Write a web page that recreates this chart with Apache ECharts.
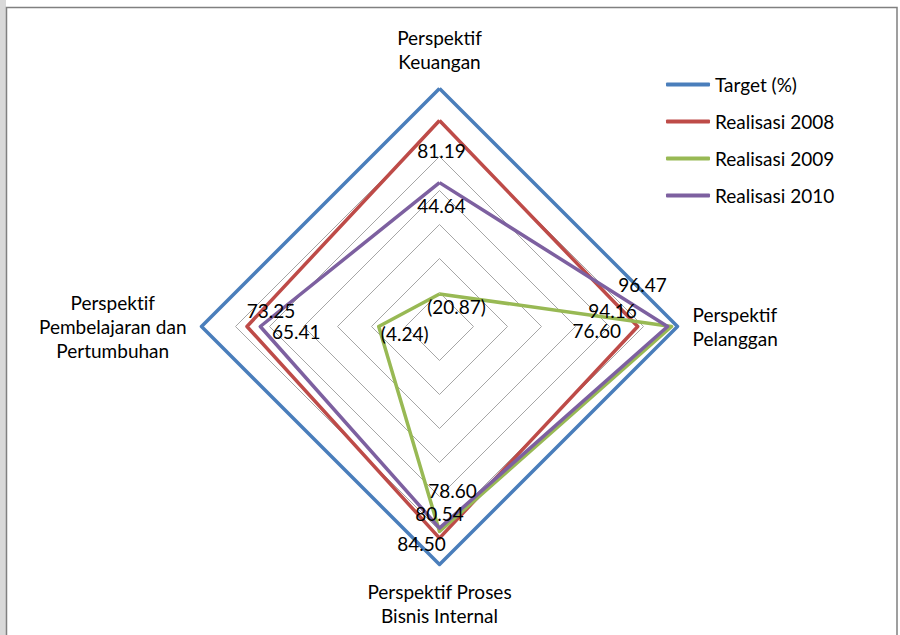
<!DOCTYPE html>
<html>
<head>
<meta charset="utf-8">
<script src="https://cdn.jsdelivr.net/npm/echarts@6/dist/echarts.min.js"></script>
<style>
  html, body { margin: 0; padding: 0; background: #ffffff; }
  #chart { width: 900px; height: 635px; }
  #chart text { font-variant-ligatures: none; font-feature-settings: "liga" 0, "clig" 0; }
</style>
</head>
<body>
<div id="chart"></div>
<script>
// Four perspectives, listed clockwise from the top
const perspectives = [
  'Perspektif\nKeuangan',
  'Perspektif\nPelanggan',
  'Perspektif Proses\nBisnis Internal',
  'Perspektif\nPembelajaran dan\nPertumbuhan'
];
const seriesNames = ['Target (%)', 'Realisasi 2008', 'Realisasi 2009', 'Realisasi 2010'];
const target        = [100, 100, 100, 100];
const realisasi2008 = [81.19, 76.60, 84.50, 73.25];
const realisasi2009 = [-20.87, 96.47, 80.54, -4.24];
const realisasi2010 = [44.64, 94.16, 78.60, 65.41];
const axisMin = -40;
const axisMax = 100;
const ringCount = 7;

const palette = ['#4A7EBB', '#BE4B48', '#98B954', '#7D60A0'];
const allSeries = [target, realisasi2008, realisasi2009, realisasi2010];

// ECharts lays indicators out counter-clockwise from the top,
// so reorder the clockwise list: top, left, bottom, right.
const order = [0, 3, 2, 1];
const reorder = arr => order.map(i => arr[i]);

// Where each value label sits relative to its vertex [dx, dy], per perspective (clockwise order)
const labelOffsets = {
  1: [[2, 30], [-41, 4], [-18, 5], [24, -16]],
  2: [[17, 13], [-29, -42], [0, -18], [26, 7]],
  3: [[2, 23], [-55, -16], [13, -38], [36, 5]]
};

const fmt = v => v < 0 ? '(' + Math.abs(v).toFixed(2) + ')' : v.toFixed(2);
const FONT = 'Lato';

const lineSeries = allSeries.map((vals, s) => ({
  type: 'radar',
  name: seriesNames[s],
  symbol: 'none',
  silent: true,
  z: 2 + s,
  itemStyle: { color: palette[s] },
  lineStyle: { color: palette[s], width: 3.5 },
  emphasis: { disabled: true },
  data: [{ value: reorder(vals), name: seriesNames[s] }]
}));

// Value labels: one invisible polygon per labelled vertex, showing only that vertex's text
const labelItems = [];
[1, 2, 3].forEach(s => {
  perspectives.forEach((p, k) => {
    const dimIdx = order.indexOf(k);
    labelItems.push({
      value: reorder(allSeries[s]),
      name: seriesNames[s] + ' ' + k,
      lineStyle: { width: 0, opacity: 0 },
      label: {
        show: true,
        position: 'inside',
        offset: labelOffsets[s][k],
        color: '#000',
        fontFamily: FONT,
        fontSize: 19,
        formatter: prm => prm.dimensionIndex === dimIdx ? fmt(allSeries[s][k]) : ''
      }
    });
  });
});

const labelSeries = {
  type: 'radar',
  name: 'nilai',
  symbol: 'circle',
  symbolSize: 1,
  silent: true,
  z: 10,
  itemStyle: { color: 'rgba(0,0,0,0)' },
  emphasis: { disabled: true },
  data: labelItems
};

const chart = echarts.init(document.getElementById('chart'), null, { renderer: 'svg' });
chart.setOption({
  animation: false,
  backgroundColor: '#ffffff',
  graphic: [
    { type: 'rect', silent: true, z: -10, shape: { x: 0, y: 0, width: 6, height: 635 }, style: { fill: '#d9d9d9' } },
    { type: 'rect', silent: true, z: -5, shape: { x: 6.5, y: 7.5, width: 890.5, height: 660 },
      style: { fill: 'none', stroke: '#808080', lineWidth: 1.5 } }
  ],
  legend: {
    data: seriesNames,
    orient: 'vertical',
    left: 661,
    top: 70,
    itemWidth: 44,
    itemHeight: 4,
    itemGap: 18,
    icon: 'roundRect',
    selectedMode: false,
    textStyle: { fontFamily: FONT, fontSize: 19, color: '#000' }
  },
  radar: {
    center: [439.5, 326.5],
    radius: 238,
    shape: 'polygon',
    splitNumber: ringCount,
    nameGap: 15,
    indicator: order.map(i => ({ name: perspectives[i], min: axisMin, max: axisMax })),
    axisName: {
      color: '#000',
      fontFamily: FONT,
      fontSize: 19,
      lineHeight: 24,
      formatter: (name) => {
        if (name === perspectives[3]) {
          return name.split('\n').map(l => '{c|' + l + '}').join('\n');
        }
        return name;
      },
      rich: {
        c: { align: 'center', fontFamily: FONT, fontSize: 19, lineHeight: 24, color: '#000' }
      }
    },
    splitLine: { lineStyle: { color: '#a6a6a6', width: 1 } },
    splitArea: { show: false },
    axisLine: { show: false },
    axisTick: { show: false },
    axisLabel: { show: false }
  },
  series: lineSeries.concat([labelSeries])
});
</script>
</body>
</html>
